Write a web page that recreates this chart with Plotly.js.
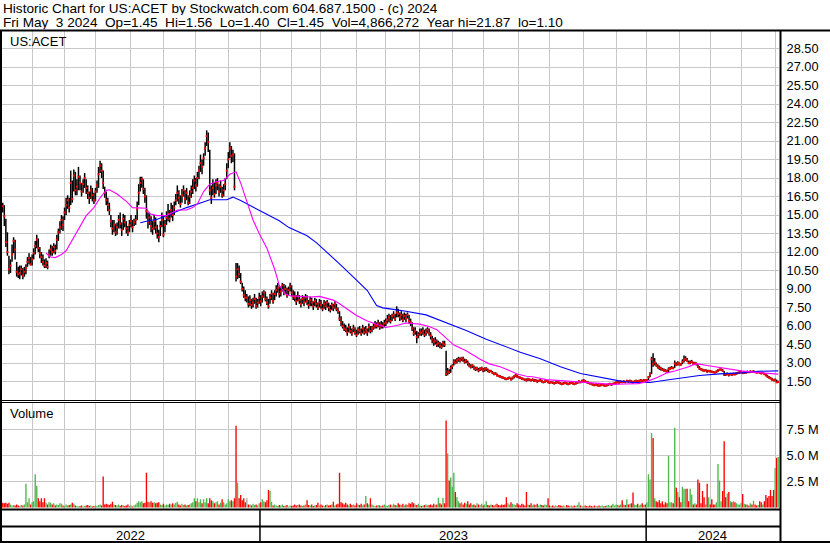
<!DOCTYPE html>
<html><head><meta charset="utf-8">
<script src="https://cdn.plot.ly/plotly-3.0.1.min.js"></script>
<style>html,body{margin:0;padding:0;background:#fff;}#chart{width:830px;height:543px;}</style>
</head><body><div id="chart"></div>
<script>
// ---------- DATA ----------
const startDate = '2022-05-04';
const endDate = '2024-05-03';
const holidays = ['2022-05-30','2022-06-20','2022-07-04','2022-09-05','2022-11-24','2022-12-26',
  '2023-01-02','2023-01-16','2023-02-20','2023-04-07','2023-05-29','2023-06-19','2023-07-04','2023-09-04','2023-11-23','2023-12-25',
  '2024-01-01','2024-01-15','2024-02-19','2024-03-29'];

const hi = [
16.0,15.8,14.7,13.6,11.7,11.4,12.6,13.2,13.0,11.2,
10.8,10.9,10.9,10.7,10.8,11.0,11.6,11.9,11.6,11.8,
12.3,12.9,13.4,13.1,12.4,12.0,11.8,11.4,11.5,11.3,
12.2,12.6,12.5,12.7,12.6,13.4,13.9,14.5,15.0,14.9,
15.6,16.4,16.6,16.4,18.6,17.8,18.7,18.5,17.9,18.9,
18.2,17.6,17.9,18.4,17.9,17.4,16.9,17.4,17.2,16.8,
17.2,17.8,18.9,19.4,19.2,18.6,17.3,16.9,16.4,16.0,
15.0,14.6,14.6,14.3,14.4,15.0,15.2,14.4,15.1,15.0,
14.5,14.1,14.6,15.0,14.6,14.7,15.0,16.1,17.5,18.1,
18.1,17.9,17.2,16.6,15.2,15.2,14.9,14.5,15.0,14.8,
14.2,13.8,14.5,15.2,15.0,14.6,15.3,15.9,15.4,16.0,
15.8,16.1,16.7,17.4,17.0,16.6,17.1,17.4,17.0,17.2,
16.6,17.0,17.4,17.9,18.2,18.0,18.5,19.0,19.9,19.5,
20.0,20.9,21.87,21.7,20.3,17.4,17.9,17.6,17.9,18.0,
17.5,17.8,17.3,17.5,18.0,19.2,20.1,20.9,20.6,20.3,
20.0,11.1,11.1,10.9,10.3,9.5,9.2,8.9,8.6,8.4,
8.5,8.2,8.3,8.6,8.3,8.2,8.7,8.5,8.8,8.9,
8.8,8.4,8.2,8.6,8.9,8.7,8.9,9.3,9.5,9.2,
9.2,9.5,9.4,9.3,9.1,9.2,9.5,9.3,8.9,8.8,
8.5,8.8,8.5,8.2,8.5,8.4,8.6,8.5,8.1,8.4,
8.3,8.0,8.3,8.2,7.9,8.2,8.1,7.8,8.1,8.0,
8.1,7.9,7.7,7.9,7.8,8.0,7.8,7.5,7.2,6.8,
6.4,6.2,6.1,5.9,6.2,6.0,5.8,6.1,5.9,5.7,
5.9,6.0,5.8,6.1,5.9,6.0,5.8,6.2,6.0,6.0,
6.2,6.4,6.3,6.5,6.3,6.4,6.3,6.5,6.6,6.9,
7.0,6.9,7.0,7.2,7.0,7.6,7.4,7.1,7.2,7.0,
7.1,7.0,7.1,6.9,6.6,6.3,5.9,5.9,5.6,5.5,
5.8,5.8,5.9,5.7,5.8,5.9,5.8,5.5,5.2,5.0,
5.1,4.9,4.8,4.7,4.6,4.8,4.8,4.0,2.6,2.5,
2.8,2.9,3.3,3.3,3.4,3.5,3.45,3.5,3.5,3.35,
3.3,3.2,3.0,2.9,2.9,2.8,2.7,2.7,2.6,2.65,
2.7,2.6,2.65,2.66,2.55,2.45,2.45,2.35,2.25,2.25,
2.15,2.05,2.0,1.95,1.9,1.85,1.8,1.85,1.9,1.8,
1.9,2.0,2.1,2.05,1.95,1.9,1.85,1.8,1.75,1.75,
1.8,1.75,1.7,1.75,1.7,1.7,1.65,1.65,1.7,1.65,
1.55,1.6,1.65,1.6,1.5,1.55,1.5,1.45,1.5,1.55,
1.5,1.45,1.4,1.45,1.5,1.45,1.4,1.45,1.5,1.45,
1.4,1.45,1.5,1.6,1.55,1.65,1.7,1.6,1.55,1.5,
1.45,1.4,1.35,1.3,1.35,1.3,1.25,1.3,1.35,1.3,
1.25,1.3,1.35,1.4,1.35,1.4,1.45,1.5,1.55,1.5,
1.6,1.55,1.6,1.55,1.65,1.6,1.65,1.6,1.55,1.6,
1.65,1.6,1.65,1.7,1.65,1.7,1.68,1.70,1.95,2.25,
3.5,3.8,3.4,3.05,2.9,2.8,2.7,2.6,2.55,2.5,
2.45,2.65,2.7,2.75,2.7,3.2,3.05,3.15,3.05,3.0,
3.3,3.6,3.55,3.4,3.2,3.2,3.25,3.1,3.1,3.05,
2.9,2.75,2.6,2.55,2.5,2.5,2.45,2.45,2.42,2.4,
2.35,2.32,2.4,2.5,2.55,2.55,2.5,2.35,2.2,2.22,
2.18,2.2,2.15,2.22,2.2,2.25,2.3,2.35,2.38,2.3,
2.32,2.3,2.38,2.35,2.4,2.35,2.42,2.35,2.32,2.35,
2.3,2.25,2.28,2.2,2.15,2.05,1.95,1.88,1.8,1.72,
1.75,1.65,1.56];

const lo = [
15.2,14.1,12.4,11.7,10.2,10.3,11.2,11.9,11.4,10.0,
9.9,9.8,10.1,9.8,10.0,10.2,10.8,11.0,10.9,10.9,
11.4,11.8,12.3,12.0,11.5,11.1,10.9,10.7,10.7,10.6,
11.5,11.7,11.7,11.9,11.8,12.2,12.9,13.5,13.8,13.7,
14.6,15.0,15.5,15.2,15.8,16.0,16.9,16.6,16.6,17.0,
17.0,16.5,16.8,17.2,16.7,16.3,15.9,16.3,16.1,15.9,
16.1,16.8,17.2,18.4,18.0,17.1,16.4,15.8,15.3,15.0,
14.0,13.4,13.6,13.3,13.4,13.9,13.9,13.3,13.8,14.0,
13.5,13.3,13.6,14.0,13.6,14.1,14.2,14.6,15.8,16.9,
17.2,16.7,16.0,14.7,13.9,14.2,13.6,13.4,13.8,13.5,
13.1,12.8,13.3,14.0,13.2,13.6,14.2,14.5,14.4,14.8,
14.5,15.0,15.8,16.1,15.9,15.6,16.0,16.5,15.9,16.2,
15.8,15.9,16.4,16.7,17.1,16.9,17.3,17.9,18.5,18.3,
19.0,19.8,20.6,20.1,16.6,15.9,16.6,16.4,16.7,17.0,
16.5,16.8,16.4,16.5,17.0,17.9,18.8,19.6,19.2,19.3,
17.0,9.6,9.8,9.9,9.4,8.8,8.3,8.0,7.9,7.5,
7.6,7.4,7.5,7.8,7.4,7.5,7.8,7.6,7.9,8.3,
8.0,7.7,7.4,7.8,8.1,7.8,8.1,8.4,8.7,8.3,
8.4,8.8,8.5,8.6,8.3,8.5,8.8,8.4,8.1,8.0,
7.7,8.0,7.8,7.5,7.8,7.6,7.9,7.7,7.4,7.6,
7.6,7.3,7.6,7.5,7.3,7.5,7.4,7.2,7.4,7.3,
7.5,7.2,7.1,7.3,7.2,7.4,7.2,7.0,6.4,6.0,
5.8,5.6,5.5,5.2,5.5,5.4,5.2,5.5,5.3,5.1,
5.3,5.4,5.2,5.4,5.3,5.4,5.2,5.5,5.4,5.5,
5.7,5.8,5.8,5.9,5.7,5.8,5.8,5.9,6.0,6.2,
6.3,6.2,6.4,6.6,6.4,6.7,6.7,6.4,6.5,6.3,
6.5,6.3,6.6,6.2,6.0,5.6,5.2,5.3,4.6,5.0,
5.2,5.2,5.3,5.1,5.2,5.4,5.2,4.9,4.6,4.4,
4.5,4.3,4.3,4.2,4.15,4.3,4.3,1.95,2.0,2.1,
2.2,2.5,2.8,2.9,2.95,3.1,3.05,3.15,3.1,2.95,
3.0,2.8,2.65,2.55,2.6,2.45,2.35,2.4,2.25,2.35,
2.4,2.25,2.3,2.35,2.25,2.2,2.25,2.1,2.0,2.05,
1.9,1.85,1.8,1.75,1.7,1.65,1.6,1.65,1.7,1.6,
1.65,1.75,1.85,1.8,1.75,1.7,1.65,1.6,1.55,1.5,
1.55,1.55,1.5,1.55,1.45,1.5,1.4,1.45,1.5,1.4,
1.35,1.4,1.45,1.35,1.3,1.35,1.3,1.25,1.3,1.35,
1.3,1.25,1.2,1.25,1.3,1.25,1.2,1.25,1.3,1.25,
1.2,1.25,1.3,1.35,1.35,1.4,1.45,1.4,1.35,1.3,
1.25,1.2,1.15,1.12,1.15,1.1,1.1,1.1,1.15,1.1,
1.1,1.1,1.15,1.2,1.15,1.2,1.25,1.3,1.35,1.3,
1.4,1.35,1.4,1.35,1.45,1.4,1.45,1.4,1.33,1.4,
1.45,1.4,1.45,1.5,1.45,1.5,1.5,1.55,1.60,1.85,
2.1,2.7,2.8,2.7,2.55,2.45,2.4,2.35,2.3,2.25,
2.22,2.28,2.45,2.5,2.5,2.6,2.75,2.8,2.8,2.78,
2.9,3.05,3.15,3.1,2.9,2.9,3.0,2.85,2.85,2.8,
2.6,2.45,2.4,2.32,2.3,2.32,2.2,2.25,2.24,2.2,
2.18,2.15,2.2,2.28,2.35,2.38,2.3,1.95,1.95,2.0,
1.9,2.0,1.95,2.0,2.0,2.05,2.1,2.12,2.18,2.1,
2.12,2.12,2.18,2.18,2.2,2.2,2.22,2.18,2.15,2.18,
2.12,2.08,2.1,2.02,1.92,1.82,1.75,1.68,1.58,1.52,
1.5,1.4,1.4];

const cl = [
15.7,14.9,12.8,12.0,10.6,10.9,11.8,12.9,12.2,10.4,
10.2,10.3,10.6,10.1,10.4,10.7,11.2,11.5,11.0,11.4,
11.9,12.5,13.0,12.3,11.9,11.6,11.2,10.9,11.1,10.8,
11.8,12.2,12.0,12.4,12.1,13.0,13.6,14.0,14.6,14.2,
15.2,15.8,16.2,15.6,17.6,16.3,18.2,17.0,17.3,18.1,
17.6,16.9,17.5,18.0,17.2,16.8,16.4,17.0,16.6,16.2,
16.9,17.4,18.3,19.0,18.6,17.6,16.8,16.2,15.8,15.4,
14.5,13.9,14.2,13.6,14.0,14.6,14.3,13.8,14.7,14.4,
13.9,13.6,14.2,14.5,14.0,14.4,14.6,15.5,16.8,17.6,
17.9,17.1,16.5,15.3,14.4,14.8,14.1,13.9,14.5,14.0,
13.5,13.2,14.1,14.6,13.4,14.2,14.8,15.1,14.7,15.4,
15.0,15.6,16.2,16.8,16.4,15.9,16.6,17.0,16.3,16.8,
16.0,16.5,16.9,17.2,17.8,17.4,18.0,18.6,19.2,18.9,
19.6,20.4,21.4,20.9,17.0,16.4,17.2,16.7,17.4,17.6,
16.9,17.3,16.6,17.0,17.5,18.6,19.5,20.4,19.8,19.9,
17.3,10.0,10.6,10.2,9.6,9.0,8.5,8.3,8.3,7.8,
8.1,7.7,7.9,8.2,7.6,7.9,8.3,8.0,8.4,8.7,
8.2,7.9,7.6,8.3,8.6,8.0,8.6,8.9,9.1,8.6,
8.8,9.3,8.7,9.0,8.5,8.9,9.2,8.7,8.4,8.3,
8.0,8.4,8.1,7.8,8.2,7.9,8.3,8.0,7.7,8.1,
7.9,7.6,8.0,7.8,7.5,7.9,7.7,7.4,7.8,7.6,
7.9,7.5,7.3,7.7,7.5,7.8,7.4,7.2,6.6,6.3,
6.0,5.8,5.7,5.5,5.9,5.6,5.4,5.8,5.5,5.3,
5.7,5.6,5.4,5.8,5.5,5.7,5.5,5.9,5.6,5.8,
5.9,6.1,6.0,6.2,5.9,6.1,6.0,6.2,6.3,6.5,
6.7,6.4,6.8,6.9,6.6,7.1,7.0,6.7,6.9,6.5,
6.8,6.6,6.9,6.4,6.3,5.8,5.4,5.6,5.1,5.3,
5.5,5.45,5.6,5.3,5.5,5.7,5.4,5.2,4.9,4.7,
4.8,4.5,4.6,4.4,4.3,4.6,4.5,2.1,2.3,2.25,
2.6,2.75,3.1,3.0,3.2,3.3,3.2,3.4,3.3,3.1,
3.2,3.0,2.8,2.7,2.8,2.6,2.5,2.6,2.4,2.5,
2.6,2.4,2.5,2.55,2.4,2.3,2.35,2.2,2.1,2.15,
2.0,1.95,1.9,1.85,1.8,1.75,1.7,1.75,1.8,1.65,
1.8,1.9,2.0,1.9,1.85,1.8,1.75,1.7,1.65,1.6,
1.7,1.65,1.6,1.65,1.55,1.6,1.5,1.55,1.6,1.5,
1.45,1.5,1.55,1.45,1.4,1.45,1.4,1.35,1.4,1.45,
1.4,1.35,1.3,1.35,1.4,1.35,1.3,1.35,1.4,1.35,
1.3,1.35,1.4,1.5,1.45,1.55,1.6,1.5,1.45,1.4,
1.35,1.3,1.25,1.2,1.25,1.2,1.15,1.2,1.25,1.2,
1.15,1.2,1.25,1.3,1.25,1.3,1.35,1.4,1.45,1.4,
1.5,1.45,1.5,1.45,1.55,1.5,1.55,1.5,1.42,1.5,
1.55,1.5,1.55,1.6,1.55,1.6,1.58,1.62,1.85,2.1,
3.3,2.9,3.05,2.85,2.7,2.6,2.55,2.45,2.4,2.35,
2.3,2.5,2.55,2.6,2.58,2.95,2.85,3.0,2.9,2.88,
3.1,3.25,3.35,3.2,3.0,3.05,3.1,2.95,2.98,2.9,
2.7,2.55,2.5,2.42,2.38,2.42,2.3,2.35,2.32,2.28,
2.25,2.22,2.3,2.4,2.45,2.48,2.38,2.1,2.05,2.12,
2.05,2.1,2.05,2.12,2.08,2.15,2.2,2.25,2.28,2.18,
2.22,2.2,2.28,2.25,2.3,2.28,2.32,2.25,2.22,2.25,
2.2,2.15,2.18,2.1,2.0,1.9,1.82,1.75,1.65,1.6,
1.62,1.43,1.45];

// volume in millions of shares
const vol2022 = [
0.45,0.4,0.45,0.35,0.45,0.3,0.2,0.25,0.2,0.3,
0.2,0.15,0.25,0.2,0.3,2.3,0.5,0.9,0.3,0.5,
0.6,3.2,2.1,0.9,0.6,0.9,0.5,0.9,0.45,0.3,
0.5,0.45,0.3,0.4,0.2,0.3,0.25,0.4,0.35,0.2,
0.15,0.3,0.2,0.25,0.3,0.45,0.35,0.2,0.15,0.1,
0.15,0.2,0.1,0.15,0.2,0.25,0.15,0.2,0.1,0.15,
0.2,0.15,0.25,0.3,0.2,3.0,0.3,0.35,0.3,0.25,
0.35,0.55,0.3,0.25,0.2,0.3,0.15,0.25,0.2,0.15,
0.2,0.3,0.15,0.2,0.1,0.2,0.3,0.45,0.6,0.5,
0.6,0.4,0.45,3.35,0.55,0.5,0.6,0.45,0.5,0.4,
0.45,0.5,0.3,0.25,0.35,0.2,0.3,0.25,0.35,0.3,
0.4,0.3,0.45,0.55,0.3,0.2,0.35,0.25,0.3,0.2,
0.25,0.3,0.4,0.5,0.9,0.6,0.9,0.5,0.8,0.4,
0.8,0.5,0.9,0.4,0.9,0.7,0.6,0.4,0.5,0.6,
0.3,0.45,0.8,0.5,0.3,0.4,0.8,0.6,0.7,0.6,
0.9,7.9,2.4,0.9,1.2,0.7,0.9,0.5,0.9,0.3,
0.3,0.2,0.35,0.25,0.3,0.2,0.4];
const vol2023 = [
0.5,0.8,0.6,0.5,0.7,1.7,1.6,0.55,0.2,0.3,
0.2,0.15,0.25,0.2,0.3,0.15,0.2,0.25,0.1,0.2,
0.15,0.2,0.3,0.2,0.25,0.3,0.2,0.15,0.2,0.3,
0.7,0.25,0.2,0.3,0.15,0.2,0.25,0.45,0.2,0.3,
0.2,0.15,0.25,0.3,0.2,0.25,0.3,0.55,0.2,0.3,
0.35,3.35,0.5,0.4,0.3,0.45,0.3,0.2,0.35,0.25,
0.3,0.2,0.4,0.3,0.25,0.35,0.2,0.3,1.1,0.4,
0.3,0.9,0.3,0.2,0.15,0.2,0.25,0.2,0.15,0.2,
0.3,0.2,0.15,0.25,0.3,0.2,0.35,0.25,0.2,0.4,
0.3,0.25,0.35,0.2,0.3,0.25,0.4,0.35,0.5,0.4,
0.3,0.25,0.35,0.2,0.15,0.2,0.25,0.3,0.2,0.25,
0.3,0.2,0.35,0.25,0.3,0.95,0.4,0.3,0.95,0.4,
8.4,5.2,2.6,2.9,2.0,3.35,1.5,1.0,0.6,0.4,
0.5,0.3,0.45,0.35,0.6,0.3,0.4,0.25,0.3,0.2,
0.4,0.3,0.25,0.35,0.2,0.3,0.6,0.25,0.2,0.3,
0.25,0.2,0.3,0.35,0.25,0.2,0.3,0.25,0.3,1.0,
0.4,0.3,0.5,0.35,0.3,0.25,0.4,0.3,0.2,0.35,
0.3,0.2,1.5,0.3,0.25,0.4,0.2,0.3,0.25,0.35,
0.2,0.3,0.25,0.2,0.3,0.25,0.9,0.2,0.15,0.2,
0.1,0.2,0.15,0.25,0.2,0.15,0.2,0.1,0.25,0.2,
0.15,0.2,0.1,0.2,0.15,0.25,0.5,0.2,0.15,0.1,
0.2,0.15,0.1,0.2,0.15,0.1,0.2,0.15,0.1,0.2,
0.15,0.2,0.1,0.15,0.2,0.25,0.15,0.2,0.35,0.2,
0.3,0.25,0.2,0.3,0.7,0.3,0.25,0.8,0.3,0.35,
0.4,1.45,0.3,0.25,0.35,0.2,0.3,0.4,0.25,0.3];
const vol2024 = [
0.5,3.2,2.7,7.2,6.7,0.9,0.6,0.5,0.7,0.4,
0.6,0.3,0.5,0.4,5.0,0.5,0.5,0.4,7.7,1.9,
1.5,1.0,0.5,2.0,1.8,1.8,1.8,0.6,1.8,1.25,
0.3,0.4,0.3,2.7,2.4,0.4,1.6,1.0,0.3,2.3,
1.0,0.3,0.8,0.3,0.3,0.5,4.2,2.6,0.6,1.6,
6.4,1.0,1.35,1.5,0.6,0.5,0.6,0.5,0.4,0.3,
0.3,0.45,1.3,0.35,0.3,0.3,0.2,0.4,0.3,0.65,
0.3,0.2,0.25,0.6,0.5,0.3,0.6,1.2,0.95,1.1,
1.7,1.1,1.7,3.8,4.8,4.87];

// moving averages: trading-day index and value
const pinkIdx = [28,31,34,38,41,48,54,59,63,67,69,74,80,84,89,93,95,100,106,113,119,123,126,130,134,138,143,147,149,151,154,158,162,166,171,176,179,183,186,192,199,205,214,218,223,229,236,242,248,255,261,270,276,281,285,288,292,300,309,315,322,328,333,339,343,352,365,375,384,395,403,411,416,419,424,430,435,443,449,456,467,478,489,494,502];
const pinkVal = [11.9,11.6,11.55,11.8,12.1,13.6,14.95,15.6,16.4,17.0,17.05,16.7,16.1,15.6,15.55,15.55,15.1,14.95,14.96,15.4,15.4,15.6,15.9,16.9,17.5,17.7,17.8,18.3,18.4,18.5,17.6,16.1,14.6,13.5,12.3,10.6,9.3,8.6,8.45,8.4,8.35,8.4,8.1,7.8,7.4,6.85,6.4,6.12,5.88,6.04,6.24,6.15,5.96,5.7,5.25,4.95,4.45,4.0,3.3,2.93,2.7,2.4,2.1,1.92,1.88,1.65,1.52,1.42,1.32,1.27,1.3,1.33,1.45,1.58,1.85,2.2,2.35,2.66,2.95,2.8,2.55,2.36,2.22,2.18,2.1];
const blueIdx = [89,93,100,105,110,119,128,134,145,149,154,158,166,173,179,185,190,197,203,209,218,227,236,242,246,255,261,274,287,300,313,322,335,348,361,374,387,400,408,419,430,439,451,464,478,489,502];
const blueVal = [14.37,14.5,14.65,14.9,15.16,15.6,15.98,16.24,16.24,16.45,16.17,15.9,15.36,14.95,14.54,14.0,13.72,13.31,12.76,12.1,11.04,9.96,8.88,7.66,7.47,7.31,7.2,6.9,6.3,5.64,4.92,4.5,3.88,3.34,2.7,2.15,1.82,1.53,1.42,1.42,1.62,1.8,1.99,2.12,2.2,2.33,2.36];

const priceTicks = [1.5,3,4.5,6,7.5,9,10.5,12,13.5,15,16.5,18,19.5,21,22.5,24,25.5,27,28.5];
const volTicks = [2.5,5,7.5];
const volTickText = ['2.5 M','5.0 M','7.5 M'];
const symbolLabel = 'US:ACET';
const volumeLabel = 'Volume';
const headerLine1 = 'Historic Chart for US:ACET by Stockwatch.com 604.687.1500 - (c) 2024';
const headerLine2 = 'Fri May  3 2024  Op=1.45  Hi=1.56  Lo=1.40  Cl=1.45  Vol=4,866,272  Year hi=21.87  lo=1.10';

// ---------- BUILD ----------
const dates = [];
{
  let d = new Date(startDate + 'T00:00:00Z');
  const end = new Date(endDate + 'T00:00:00Z');
  while (d <= end) {
    const s = d.toISOString().slice(0, 10);
    const dow = d.getUTCDay();
    if (dow !== 0 && dow !== 6 && holidays.indexOf(s) < 0) dates.push(s);
    d = new Date(d.getTime() + 86400000);
  }
}
const vol = vol2022.concat(vol2023, vol2024);
const n = Math.min(dates.length, hi.length, lo.length, cl.length, vol.length);

const barX = [], barY = [];
for (let i = 0; i < n; i++) { barX.push(dates[i], dates[i], null); barY.push(lo[i], hi[i], null); }

const RED = '#ff0000', GREEN = '#4cb84c', GRAY = '#a8a8a8';
const volColors = [];
for (let i = 0; i < n; i++) {
  if (i === 0) volColors.push(RED);
  else volColors.push(cl[i] > cl[i-1] ? GREEN : (cl[i] < cl[i-1] ? RED : GRAY));
}

const monthTicks = [], yearBounds = [], yearStarts = [0];
for (let i = 1; i < n; i++) {
  if (dates[i].slice(0, 7) !== dates[i-1].slice(0, 7)) monthTicks.push(dates[i]);
  if (dates[i].slice(0, 4) !== dates[i-1].slice(0, 4)) { yearBounds.push(i - 0.5); yearStarts.push(i); }
}
yearStarts.push(n);

// pixel geometry helpers
const W = 830, H = 543, ML = 2, MR = 51, MT = 31, MB = 34;
const PX = p => (p - ML) / (W - ML - MR);
const PY = p => (H - MB - p) / (H - MT - MB);

const FONT = '"Liberation Sans", Arial, sans-serif';
const GRID = '#c8c8c8';

const traces = [
  { type: 'bar', x: dates.slice(0, n), y: vol.slice(0, n), xaxis: 'x', yaxis: 'y2',
    marker: { color: volColors, line: { width: 0 } }, hoverinfo: 'skip' },
  { type: 'scatter', mode: 'lines', x: barX, y: barY, xaxis: 'x', yaxis: 'y',
    line: { color: '#000000', width: 1.5 }, connectgaps: false, hoverinfo: 'skip' },
  { type: 'scatter', mode: 'markers', x: dates.slice(0, n), y: cl.slice(0, n), xaxis: 'x', yaxis: 'y',
    marker: { symbol: 'square', size: 2, color: RED, line: { width: 0 } }, hoverinfo: 'skip' },
  { type: 'scatter', mode: 'lines', x: blueIdx.map(i => dates[i]), y: blueVal, xaxis: 'x', yaxis: 'y',
    line: { color: '#0000ff', width: 1.1 }, hoverinfo: 'skip' },
  { type: 'scatter', mode: 'lines', x: pinkIdx.map(i => dates[i]), y: pinkVal, xaxis: 'x', yaxis: 'y',
    line: { color: '#ff00ff', width: 1.1 }, hoverinfo: 'skip' }
];

const L = (x0, y0, x1, y1, w) => ({ type: 'line', xref: 'paper', yref: 'paper',
  x0: PX(x0), y0: PY(y0), x1: PX(x1), y1: PY(y1), line: { color: '#000', width: w }, layer: 'above' });

const shapes = [
  L(0, 30.5, 830, 30.5, 2),
  L(1, 30, 1, 543, 2),
  L(780.5, 30, 780.5, 543, 2),
  L(0, 400.5, 781, 400.5, 1),
  L(0, 402.5, 781, 402.5, 1),
  L(0, 509.5, 781, 509.5, 2),
  L(0, 526.5, 781, 526.5, 2),
  L(0, 542, 830, 542, 2)
];
yearBounds.forEach(b => shapes.push({ type: 'line', xref: 'x', yref: 'paper', x0: b, x1: b,
  y0: PY(510), y1: PY(542), line: { color: '#000', width: 1.5 }, layer: 'above' }));

const nb = s => s.replace(/ /g, '\u00a0');
const annotations = [
  { xref: 'paper', yref: 'paper', x: PX(2), y: PY(8), xanchor: 'left', yanchor: 'middle', showarrow: false,
    height: 13, borderpad: 0, valign: 'middle',
    text: nb(headerLine1), font: { family: FONT, size: 13.6, color: '#000' } },
  { xref: 'paper', yref: 'paper', x: PX(2), y: PY(22.5), xanchor: 'left', yanchor: 'middle', showarrow: false,
    height: 13, borderpad: 0, valign: 'middle',
    text: nb(headerLine2), font: { family: FONT, size: 13.6, color: '#000' } },
  { xref: 'paper', yref: 'paper', x: PX(8), y: PY(42), xanchor: 'left', yanchor: 'middle', showarrow: false,
    text: symbolLabel, font: { family: FONT, size: 13, color: '#000' } },
  { xref: 'paper', yref: 'paper', x: PX(8), y: PY(413), xanchor: 'left', yanchor: 'middle', showarrow: false,
    text: volumeLabel, font: { family: FONT, size: 13, color: '#000' } }
];
for (let k = 0; k < yearStarts.length - 1; k++) {
  annotations.push({ xref: 'x', yref: 'paper', x: (yearStarts[k] + yearStarts[k+1] - 1) / 2, y: PY(535),
    xanchor: 'center', yanchor: 'middle', showarrow: false,
    text: dates[yearStarts[k]].slice(0, 4), font: { family: FONT, size: 13, color: '#000' } });
}

const layout = {
  width: W, height: H,
  margin: { l: ML, r: MR, t: MT, b: MB, pad: 0 },
  paper_bgcolor: '#ffffff', plot_bgcolor: '#ffffff',
  showlegend: false, hovermode: false, bargap: 0.12,
  font: { family: FONT, size: 13, color: '#000' },
  xaxis: { type: 'category', anchor: 'y2', domain: [0, 1], range: [-0.5, n - 0.5],
    tickmode: 'array', tickvals: monthTicks, showticklabels: false, ticks: '',
    showgrid: true, gridcolor: GRID, gridwidth: 1, zeroline: false, showline: false, fixedrange: true },
  yaxis: { domain: [PY(400), PY(31)], range: [0, 29.92], side: 'right', anchor: 'x',
    tickmode: 'array', tickvals: priceTicks, ticktext: priceTicks.map(v => v.toFixed(2)),
    ticks: 'outside', ticklen: 4, tickcolor: 'rgba(0,0,0,0)',
    showgrid: true, gridcolor: GRID, gridwidth: 1, zeroline: false, showline: false,
    tickfont: { family: FONT, size: 12.8, color: '#000' }, fixedrange: true },
  yaxis2: { domain: [PY(508.5), PY(402)], range: [-0.0965, 10.18], side: 'right', anchor: 'x',
    tickmode: 'array', tickvals: volTicks, ticktext: volTickText,
    ticks: 'outside', ticklen: 4, tickcolor: 'rgba(0,0,0,0)',
    showgrid: true, gridcolor: GRID, gridwidth: 1, zeroline: false, showline: false,
    tickfont: { family: FONT, size: 12.8, color: '#000' }, fixedrange: true },
  shapes: shapes,
  annotations: annotations
};

Plotly.newPlot('chart', traces, layout, { staticPlot: true, displayModeBar: false });
</script>
</body></html>
